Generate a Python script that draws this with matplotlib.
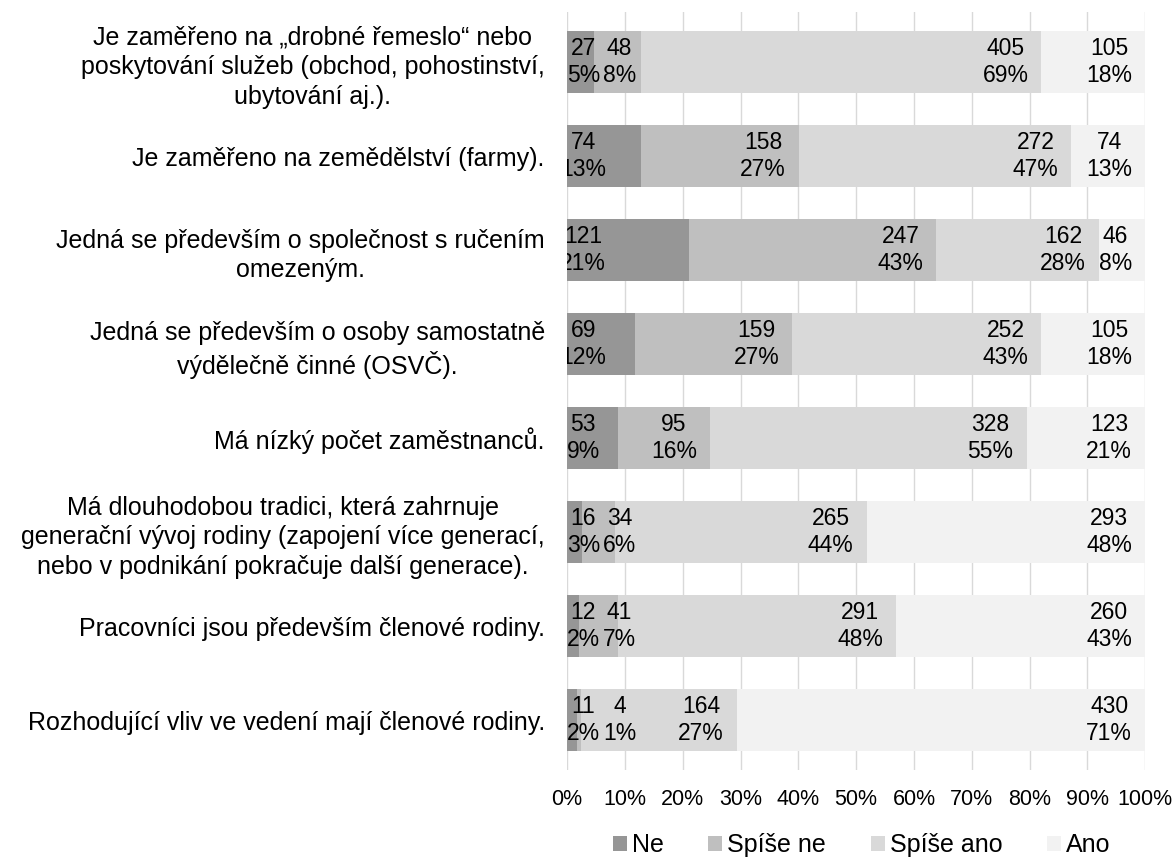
import matplotlib.pyplot as plt
from matplotlib.patches import Patch

### Data ###

categories = [
    "Je zaměřeno na „drobné řemeslo“ nebo\nposkytování služeb (obchod, pohostinství,\nubytování aj.).",
    "Je zaměřeno na zemědělství (farmy).",
    "Jedná se především o společnost s ručením\nomezeným.",
    "Jedná se především o osoby samostatně\nvýdělečně činné (OSVČ).",
    "Má nízký počet zaměstnanců.",
    "Má dlouhodobou tradici, která zahrnuje\ngenerační vývoj rodiny (zapojení více generací,\nnebo v podnikání pokračuje další generace).",
    "Pracovníci jsou především členové rodiny.",
    "Rozhodující vliv ve vedení mají členové rodiny.",
]
ne = [27, 74, 121, 69, 53, 16, 12, 11]
spise_ne = [48, 158, 247, 159, 95, 34, 41, 4]
spise_ano = [405, 272, 162, 252, 328, 265, 291, 164]
ano = [105, 74, 46, 105, 123, 293, 260, 430]

series_names = ["Ne", "Spíše ne", "Spíše ano", "Ano"]
colors = ["#969696", "#bfbfbf", "#d9d9d9", "#f2f2f2"]
x_ticks = [0, 10, 20, 30, 40, 50, 60, 70, 80, 90, 100]

### Plot ###

plt.rcParams['font.family'] = ['Liberation Sans', 'DejaVu Sans']
LABEL_FS = 16.5   # values in bars
CAT_FS = 18       # category names
TICK_FS = 15.5

fig = plt.figure(figsize=(11.74, 8.57), dpi=100)
ax = fig.add_axes([0.483, 0.1015, 0.4925, 0.8845])

series = [ne, spise_ne, spise_ano, ano]
n = len(categories)
totals = [sum(s[i] for s in series) for i in range(n)]
shares = [[100 * s[i] / totals[i] for i in range(n)] for s in series]

left = [0.0] * n
for k, sh in enumerate(shares):
    ax.barh(range(n), sh, left=left, height=0.66, color=colors[k], zorder=2)
    left = [l + v for l, v in zip(left, sh)]

ax.set_xlim(0, 100)
ax.set_ylim(n - 0.468, -0.532)
ax.set_xticks(x_ticks, [f"{t}%" for t in x_ticks])
ax.set_yticks(range(n), categories, multialignment='center', linespacing=1.3)
ax.tick_params(axis='both', length=0)
ax.tick_params(axis='x', pad=14, labelsize=TICK_FS)
ax.tick_params(axis='y', pad=16, labelsize=CAT_FS)
ax.xaxis.grid(True, color='#d9d9d9', lw=1, zorder=0)
ax.set_axisbelow(True)
for sp in ax.spines.values():
    sp.set_visible(False)

# data labels: "Ne" near the start, the rest inside the end of each segment
fig.canvas.draw()
renderer = fig.canvas.get_renderer()
inv = ax.transData.inverted()
pad_px = 13
gap_px = 3
for i in range(n):
    start = 0.0
    prev_right = None
    for k in range(len(series)):
        label = f"{series[k][i]}\n{round(shares[k][i])}%"
        end = start + shares[k][i]
        if k == 0:
            t = ax.text(2.8, i, label, ha='center', va='center', fontsize=LABEL_FS,
                        multialignment='center', clip_on=True, zorder=3)
        else:
            ex, ey = ax.transData.transform((end, i))
            xr = inv.transform((ex - pad_px, ey))[0]
            t = ax.text(xr, i, label, ha='right', va='center', fontsize=LABEL_FS,
                        multialignment='center', zorder=3)
            bb = t.get_window_extent(renderer)
            if prev_right is not None and bb.x0 < prev_right + gap_px:
                xl = inv.transform((prev_right + gap_px, ey))[0]
                t.set_x(xl)
                t.set_ha('left')
        prev_right = t.get_window_extent(renderer).x1
        start = end

handles = [Patch(facecolor=c, label=s) for c, s in zip(colors, series_names)]
fig.legend(handles=handles, loc='center', bbox_to_anchor=(0.734, 0.014), ncol=4,
           frameon=False, fontsize=18, handlelength=0.55, handleheight=0.55,
           handletextpad=0.2, columnspacing=1.8)

plt.savefig("out.png", dpi=100)
